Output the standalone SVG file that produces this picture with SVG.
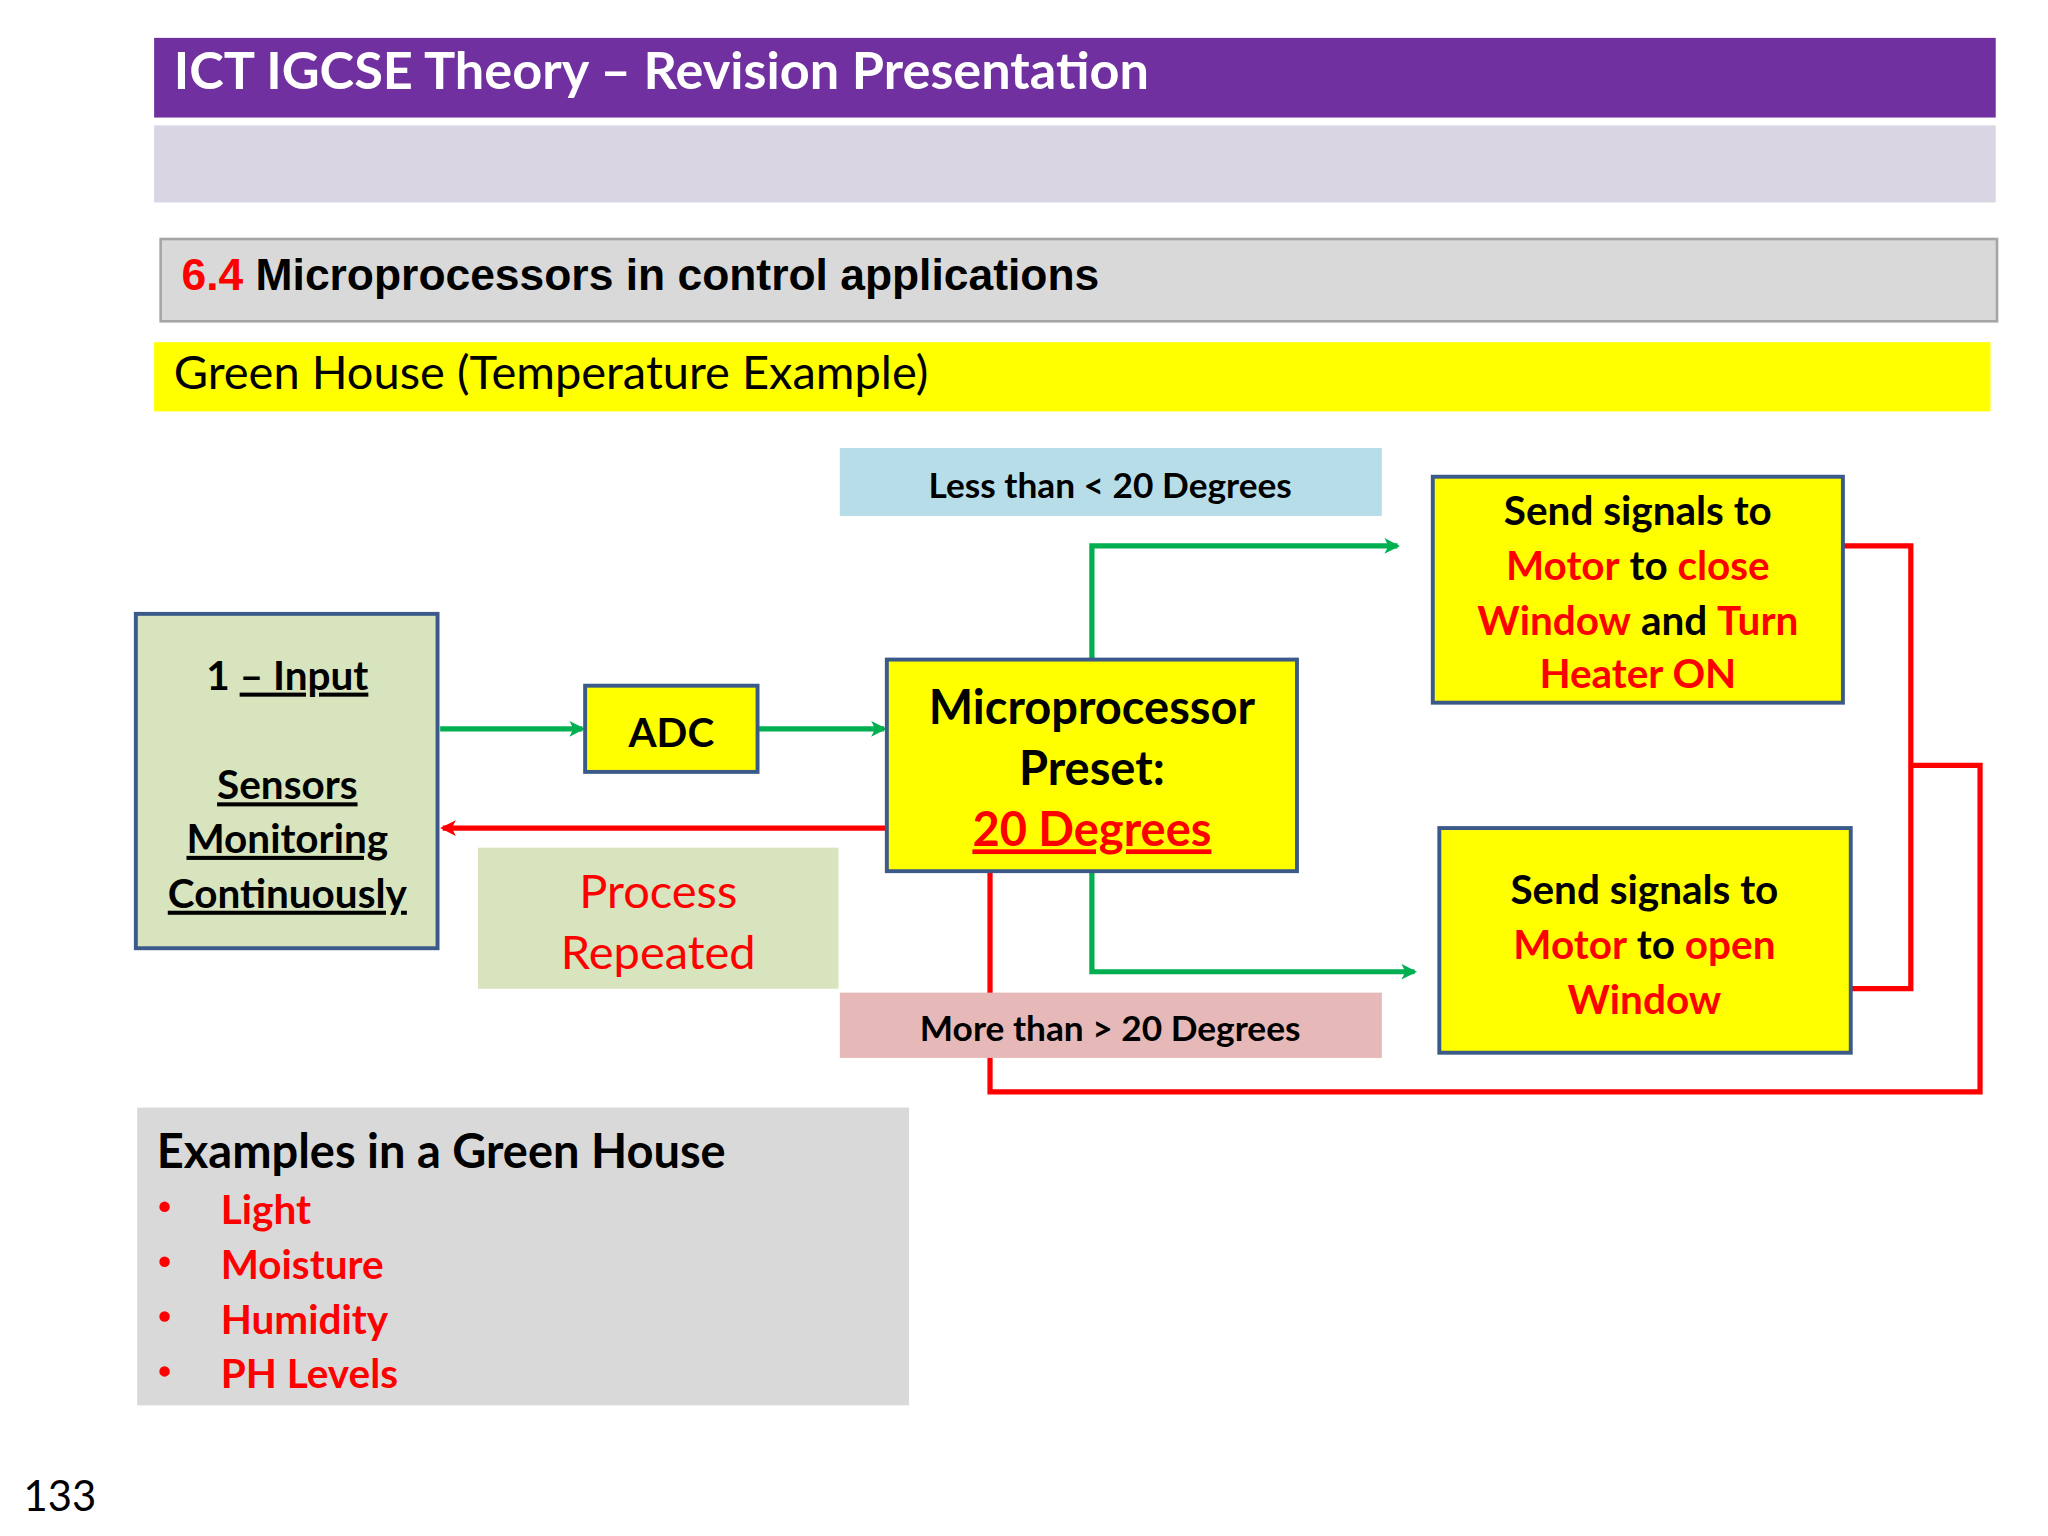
<svg xmlns="http://www.w3.org/2000/svg" width="2048" height="1536" viewBox="0 0 2048 1536">
<defs>
<style>
.t{font-family:Lato,"Liberation Sans",sans-serif}
.b{font-weight:bold}
.box{stroke:#3B5A8A;stroke-width:3}
.r{fill:#FF0000}
.g{stroke:#00B050;stroke-width:4;fill:none}
.rd{stroke:#FF0000;stroke-width:4;fill:none}
</style>
<marker id="ag" markerWidth="12" markerHeight="12" refX="10" refY="6" orient="auto" markerUnits="userSpaceOnUse" viewBox="0 0 12 12"><path d="M0,0 L12,6 L0,12 L3,6 Z" fill="#00B050"/></marker>
<marker id="ar" markerWidth="12" markerHeight="12" refX="10" refY="6" orient="auto" markerUnits="userSpaceOnUse" viewBox="0 0 12 12"><path d="M0,0 L12,6 L0,12 L3,6 Z" fill="#FF0000"/></marker>
</defs>
<rect width="2048" height="1536" fill="#fff"/>
<g transform="scale(1.3061)">
<g id="header">
<rect x="118" y="29" width="1410" height="61" fill="#7030A0"/>
<text x="133" y="68" class="t b" font-size="40" fill="#fff">ICT IGCSE Theory – Revision Presentation</text>
<rect x="118" y="96" width="1410" height="59" fill="#D9D5E3"/>
<rect x="123" y="183" width="1406" height="63" fill="#D9D9D9" stroke="#A6A6A6" stroke-width="2"/>
<text x="139" y="222" font-family="'Liberation Sans',Arial,sans-serif" font-weight="bold" font-size="34"><tspan fill="#FF0000">6.4</tspan> Microprocessors in control applications</text>
<rect x="118" y="262" width="1406" height="53" fill="#FFFF00"/>
<text x="133" y="298" class="t" font-size="36">Green House (Temperature Example)</text>
</g>
<g id="connectors">
<path class="g" d="M337,558 H446" marker-end="url(#ag)"/>
<path class="g" d="M581,558 H677" marker-end="url(#ag)"/>
<path class="g" d="M836,505 V418 H1070" marker-end="url(#ag)"/>
<path class="g" d="M836,667 V744 H1083" marker-end="url(#ag)"/>
<path class="rd" d="M679,634 H339" marker-end="url(#ar)"/>
<path class="rd" d="M1411,418 H1463 V757 H1417"/>
<path class="rd" d="M1463,586 H1516 V836 H758 V667"/>
</g>
<g id="less">
<rect x="643" y="343" width="415" height="52" fill="#B7DEE8"/>
<text x="850" y="381" class="t b" font-size="27" text-anchor="middle">Less than &lt; 20 Degrees</text>
</g>
<g id="more">
<rect x="643" y="760" width="415" height="50" fill="#E6B9B8"/>
<text x="850" y="797" class="t b" font-size="27" text-anchor="middle">More than &gt; 20 Degrees</text>
</g>
<g id="input">
<rect x="104" y="470" width="231" height="256" fill="#D7E4BD" class="box"/>
<g class="t b" font-size="31" text-anchor="middle">
<text x="220" y="528">1 <tspan text-decoration="underline">– Input</tspan></text>
<text x="220" y="612" text-decoration="underline">Sensors</text>
<text x="220" y="653" text-decoration="underline">Monitoring</text>
<text x="220" y="695" text-decoration="underline">Continuously</text>
</g>
</g>
<g id="adc">
<rect x="448" y="525" width="132" height="66" fill="#FFFF00" class="box"/>
<text x="514" y="572" class="t b" font-size="31" text-anchor="middle">ADC</text>
</g>
<g id="micro">
<rect x="679" y="505" width="314" height="162" fill="#FFFF00" class="box"/>
<g class="t b" font-size="36" text-anchor="middle">
<text x="836" y="554">Microprocessor</text>
<text x="836" y="601">Preset:</text>
<text x="836" y="648" class="r" text-decoration="underline">20 Degrees</text>
</g>
</g>
<g id="repeat">
<rect x="366" y="649" width="276" height="108" fill="#D7E4BD"/>
<g class="t r" font-size="36" text-anchor="middle">
<text x="504" y="695">Process</text>
<text x="504" y="742">Repeated</text>
</g>
</g>
<g id="close">
<rect x="1097" y="365" width="314" height="173" fill="#FFFF00" class="box"/>
<g class="t b" font-size="31" text-anchor="middle">
<text x="1254" y="402">Send signals to</text>
<text x="1254" y="444"><tspan class="r">Motor</tspan> to <tspan class="r">close</tspan></text>
<text x="1254" y="486"><tspan class="r">Window</tspan> and <tspan class="r">Turn</tspan></text>
<text x="1254" y="527" class="r">Heater ON</text>
</g>
</g>
<g id="open">
<rect x="1102" y="634" width="315" height="172" fill="#FFFF00" class="box"/>
<g class="t b" font-size="31" text-anchor="middle">
<text x="1259" y="692">Send signals to</text>
<text x="1259" y="734"><tspan class="r">Motor</tspan> to <tspan class="r">open</tspan></text>
<text x="1259" y="776" class="r">Window</text>
</g>
</g>
<g id="examples">
<rect x="105" y="848" width="591" height="228" fill="#D9D9D9"/>
<text x="120" y="894" class="t b" font-size="36">Examples in a Green House</text>
<g class="t b r" font-size="31">
<circle cx="126" cy="924" r="4" fill="#FF0000"/><text x="169" y="937">Light</text>
<circle cx="126" cy="966" r="4" fill="#FF0000"/><text x="169" y="979">Moisture</text>
<circle cx="126" cy="1008" r="4" fill="#FF0000"/><text x="169" y="1021">Humidity</text>
<circle cx="126" cy="1050" r="4" fill="#FF0000"/><text x="169" y="1063">PH Levels</text>
</g>
</g>
<text x="18" y="1157" class="t" font-size="32">133</text>
</g>
</svg>
